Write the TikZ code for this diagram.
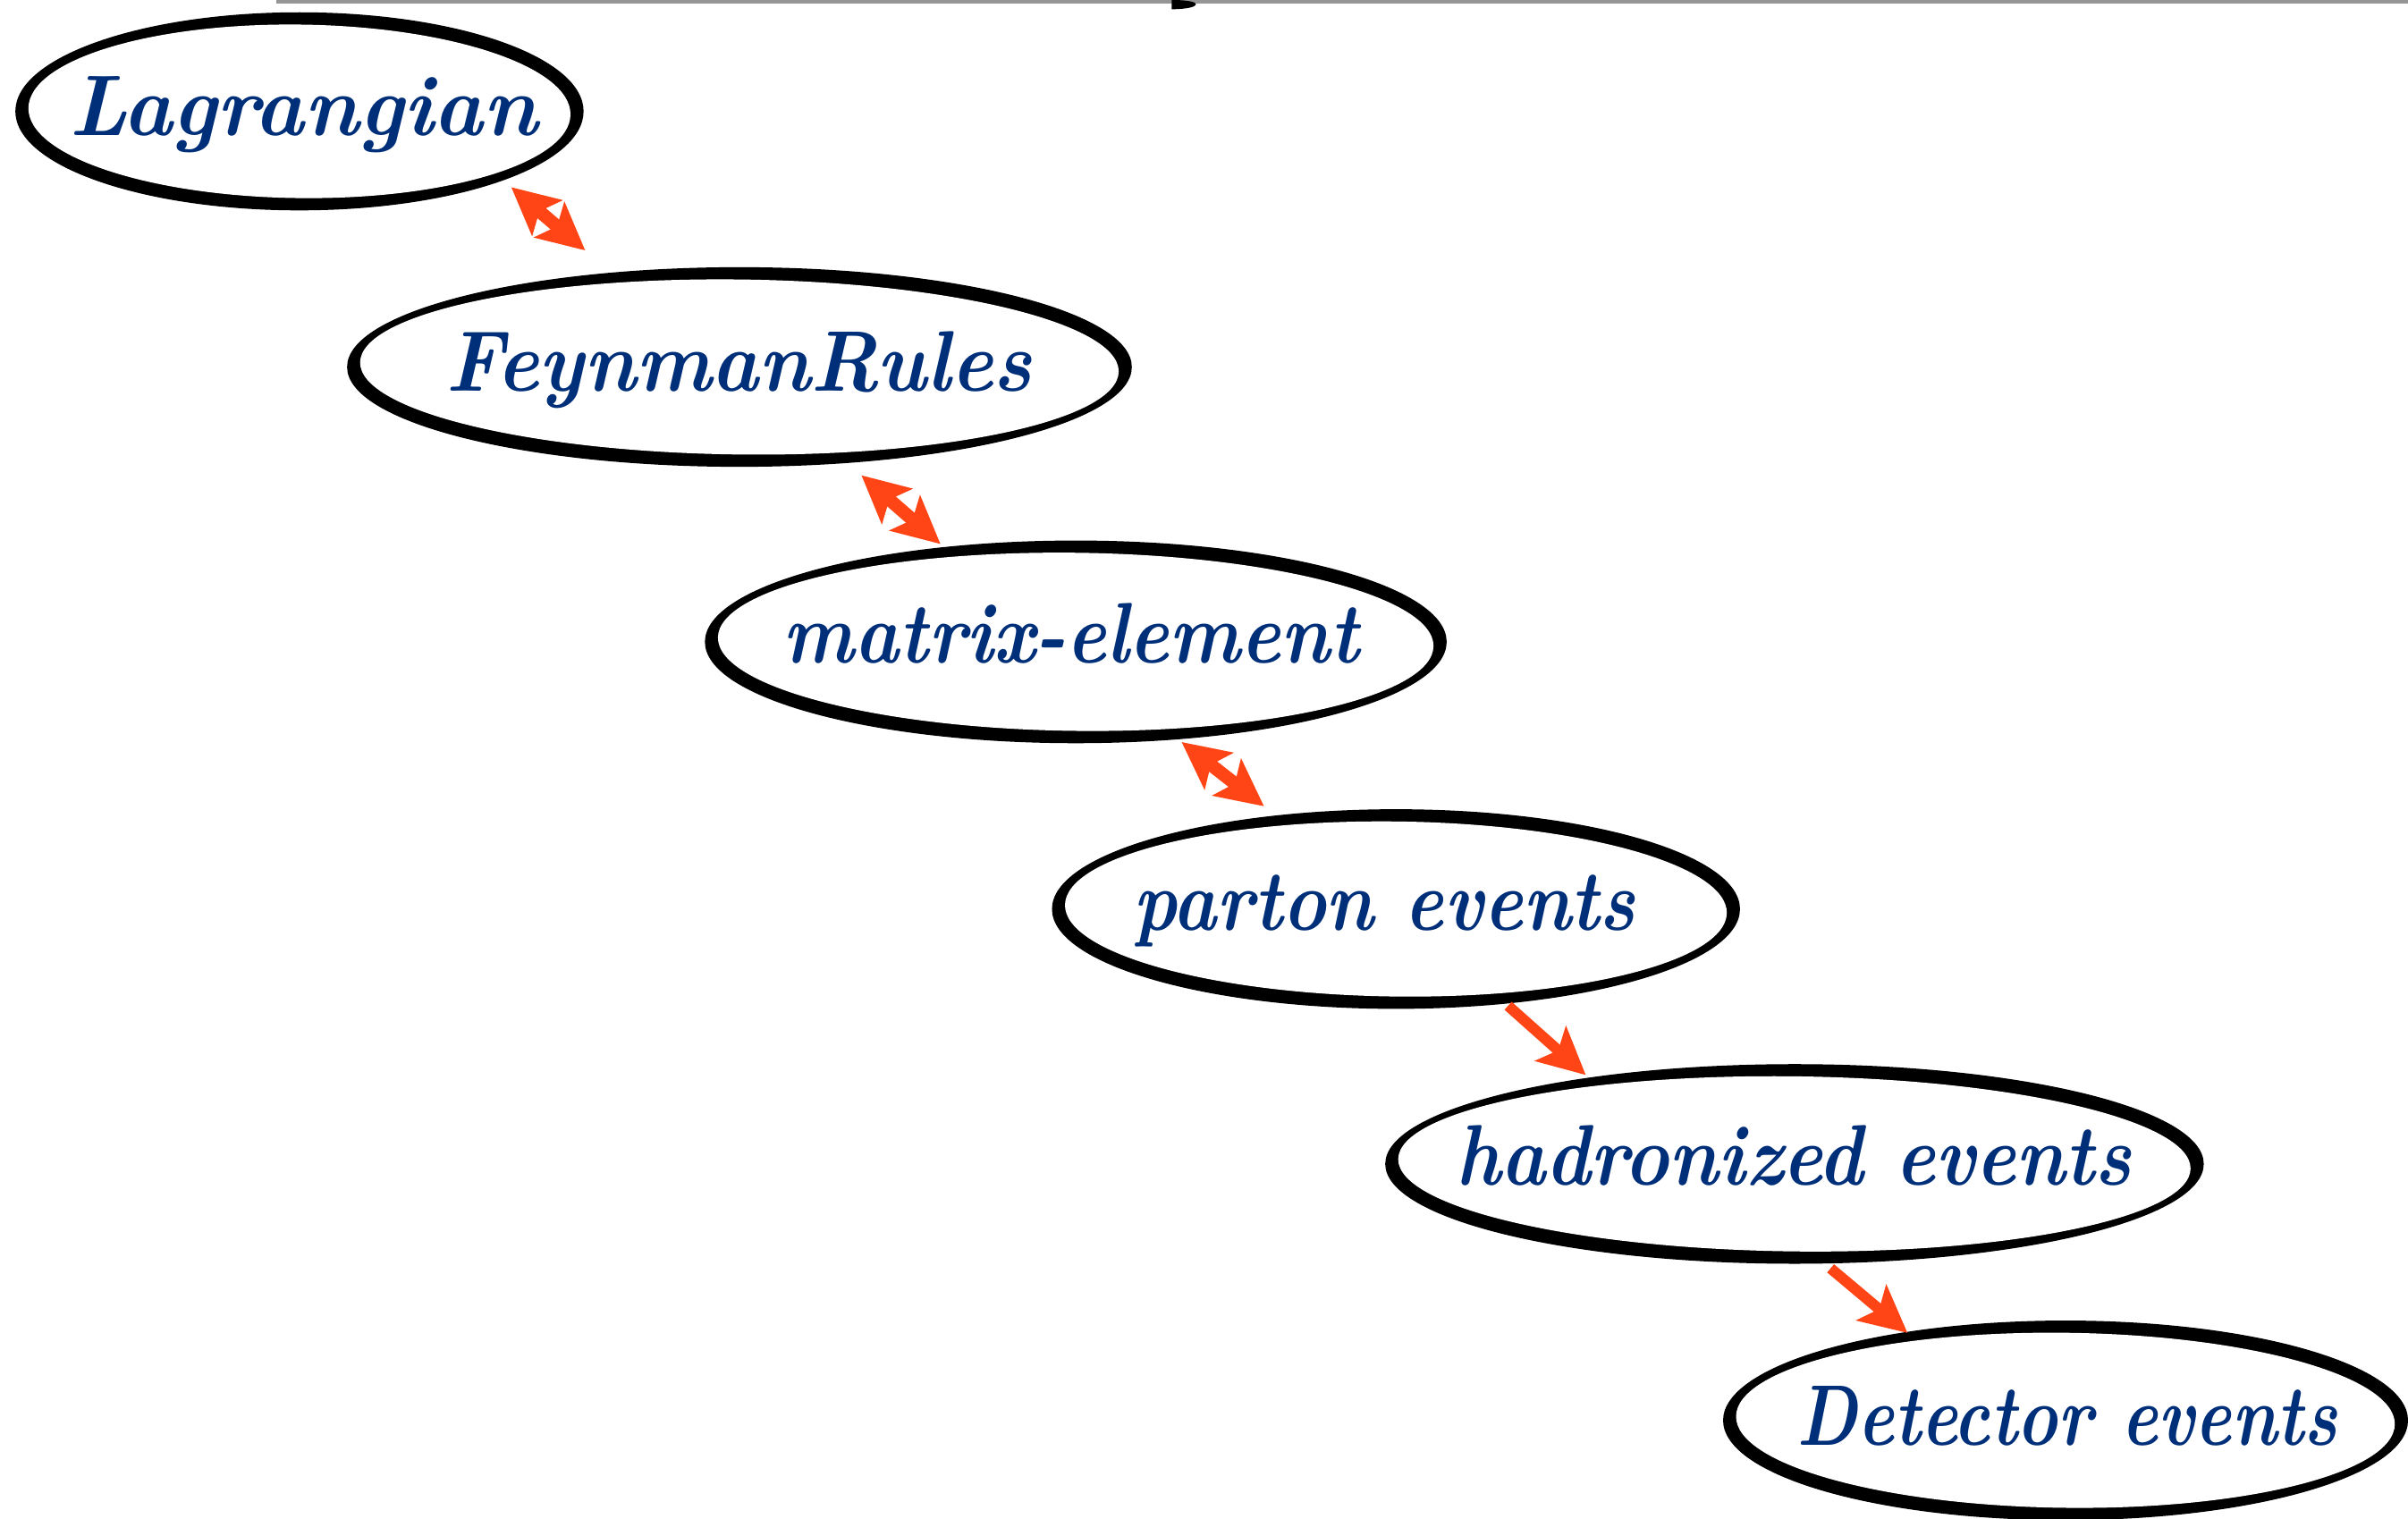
\documentclass[tikz,border=0pt]{standalone}
\usepackage{graphicx}
\usetikzlibrary{arrows.meta,shapes.geometric}
\definecolor{arrc}{RGB}{255,69,22}
\definecolor{txtc}{RGB}{0,47,122}
\definecolor{topgray}{RGB}{149,149,149}
\tikzset{
  ellbase/.style={shape=ellipse, fill=black, inner sep=0pt, outer sep=0pt},
  txt/.style={text=txtc, inner sep=0pt, anchor=base, font=\fontsize{56}{60}\selectfont\bfseries\itshape},
  sarr/.style={draw=arrc, line width=7pt, -{Stealth[length=31pt, width=31pt, inset=7pt, line width=0pt]}},
  darr/.style={draw=arrc, line width=8.5pt, {Stealth[length=31pt, width=31pt, inset=7pt, line width=0pt]}-{Stealth[length=31pt, width=31pt, inset=7pt, line width=0pt]}}
}
\newcommand{\myell}[5]{%
  \node[ellbase, minimum width=2*#4, minimum height=2*#5] (#1) at (#2,#3) {};
  \fill[white, rotate around={-0.7:(#1.center)}] (#1.center) ellipse [x radius=#4-8.5, y radius=#5-8];
}
\newcommand{\mytxt}[5]{%
  \node[txt] (#1) at (#2,#3) {\resizebox{#4pt}{\height}{#5}};
}
\begin{document}
\begin{tikzpicture}[x=1pt,y=-1pt]
\useasboundingbox (0,0) rectangle (1568,989);
% top rule
\fill[topgray] (180,0) rectangle (1568,2.4);
\fill[black] (763,0) .. controls (786,0) and (782,6) .. (763,6) -- cycle;
% ellipses
\myell{e1}{195}{72.5}{185}{64.5}
\myell{e2}{481.5}{239}{255.5}{65}
\myell{e3}{700.5}{418}{241.5}{66}
\myell{e4}{909}{592}{224}{65}
\myell{e5}{1168.5}{758}{266.5}{65}
\myell{e6}{1345}{925}{223}{65}
% texts
\mytxt{t1}{197.5}{88}{305}{Lagrangian}
\mytxt{t2}{481}{255}{382}{FeynmanRules}
\mytxt{t3}{697.5}{432}{375}{matrix-element}
\mytxt{t4}{901.5}{606}{327}{parton events}
\mytxt{t5}{1168}{772}{440}{hadronized events}
\mytxt{t6}{1346}{941}{352}{Detector events}
% arrows
\draw[darr] ([shift={(138,49.5)}]e1.center) -- ([shift={(-100.5,-76)}]e2.center);
\draw[darr] ([shift={(79.5,70.6)}]e2.center) -- ([shift={(-88.2,-63.8)}]e3.center);
\draw[darr] ([shift={(69,65.3)}]e3.center) -- ([shift={(-86,-67)}]e4.center);
\draw[sarr] ([shift={(73,63)}]e4.center) -- ([shift={(-136,-58)}]e5.center);
\draw[sarr] ([shift={(23.5,68)}]e5.center) -- ([shift={(-103,-57)}]e6.center);
\end{tikzpicture}
\end{document}
